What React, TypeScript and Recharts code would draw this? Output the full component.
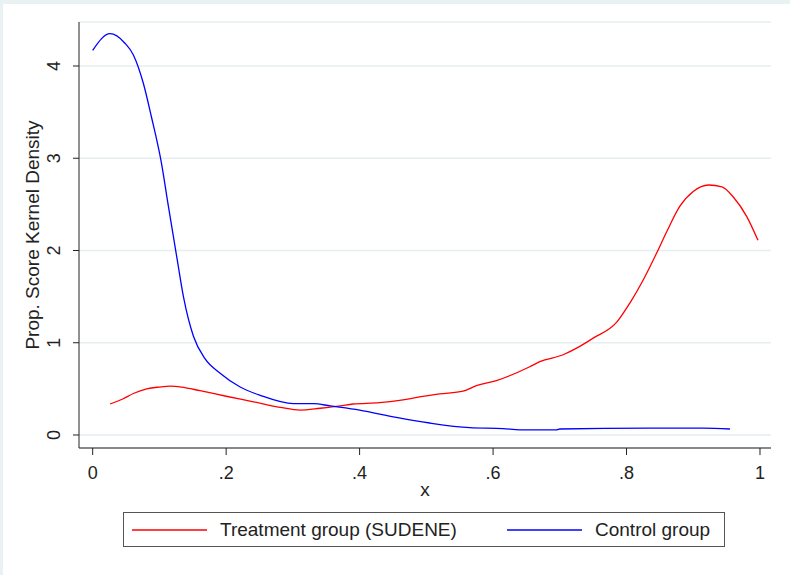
import React from 'react';
import { LineChart, Line, XAxis, YAxis, CartesianGrid } from 'recharts';

// propensity score grid (x) and kernel density estimates
const treatX = [0.026, 0.045, 0.061, 0.081, 0.1, 0.116, 0.133, 0.161, 0.2, 0.241, 0.281, 0.311, 0.341, 0.371, 0.39, 0.43, 0.46, 0.48, 0.52, 0.555, 0.575, 0.605, 0.655, 0.67, 0.705, 0.73, 0.75, 0.785, 0.805, 0.825, 0.845, 0.86, 0.88, 0.9, 0.923, 0.943, 0.96, 0.98, 0.997];
const treatY = [0.336, 0.39, 0.45, 0.5, 0.52, 0.53, 0.52, 0.48, 0.42, 0.36, 0.3, 0.27, 0.29, 0.315, 0.336, 0.35, 0.375, 0.4, 0.445, 0.475, 0.535, 0.59, 0.74, 0.795, 0.87, 0.96, 1.05, 1.22, 1.43, 1.68, 1.97, 2.2, 2.48, 2.64, 2.71, 2.69, 2.58, 2.37, 2.11];

const ctrlX = [0.0, 0.026, 0.048, 0.061, 0.076, 0.088, 0.103, 0.113, 0.126, 0.136, 0.151, 0.168, 0.191, 0.221, 0.251, 0.301, 0.331, 0.356, 0.4, 0.455, 0.505, 0.565, 0.615, 0.64, 0.695, 0.7, 0.833, 0.915, 0.955];
const ctrlY = [4.17, 4.35, 4.25, 4.12, 3.81, 3.45, 2.95, 2.5, 1.93, 1.5, 1.07, 0.83, 0.67, 0.52, 0.43, 0.34, 0.34, 0.315, 0.27, 0.19, 0.13, 0.08, 0.07, 0.055, 0.055, 0.065, 0.075, 0.075, 0.065];

const xTicks = [0, 0.2, 0.4, 0.6, 0.8, 1];
const yTicks = [0, 1, 2, 3, 4];

const seriesNames = ['Treatment group (SUDENE)', 'Control group'];
const seriesColors = ['#ff0000', '#0000ff'];

const treatData = treatX.map((x, i) => ({ x, y: treatY[i] }));
const ctrlData = ctrlX.map((x, i) => ({ x, y: ctrlY[i] }));

const FONT = 'Arial, "Liberation Sans", sans-serif';

const fmtX = (v: number) => (v === 0 || v === 1 ? String(v) : String(v).replace(/^0/, ''));

function XTick({ x, y, payload }: any) {
  return (
    <text x={x} y={y + 22} textAnchor="middle" fontSize={18} fill="#222" fontFamily={FONT}>
      {fmtX(payload.value)}
    </text>
  );
}

function YTick({ x, y, payload }: any) {
  const bx = x - 11;
  return (
    <text x={bx} y={y} transform={`rotate(-90 ${bx} ${y})`} textAnchor="middle" fontSize={18} fill="#222" fontFamily={FONT}>
      {payload.value}
    </text>
  );
}

function YTitle({ viewBox }: any) {
  const cy = viewBox.y + viewBox.height / 2;
  return (
    <text x={39} y={cy} transform={`rotate(-90 39 ${cy})`} textAnchor="middle" fontSize={19} fill="#222" fontFamily={FONT}>
      Prop. Score Kernel Density
    </text>
  );
}

export default function App() {
  return (
    <div style={{ position: 'fixed', left: 0, top: 0, width: 790, height: 575, background: '#eaf1f3' }}>
      <div style={{ position: 'absolute', left: 3, top: 4, right: 0, bottom: 0, background: '#fff' }} />
      <div style={{ position: 'absolute', left: 0, top: 0 }}>
        <LineChart width={790} height={575} margin={{ top: 22, right: 19, bottom: 77, left: 19 }}>
          <CartesianGrid vertical={false} stroke="#e6eef0" strokeWidth={1.5} />
          <XAxis
            dataKey="x"
            type="number"
            domain={[-0.0205, 1.0165]}
            ticks={xTicks}
            allowDataOverflow
            height={50}
            tick={<XTick />}
            tickSize={7}
            axisLine={{ stroke: '#222' }}
            tickLine={{ stroke: '#222' }}
            label={{ value: 'x', position: 'insideBottom', offset: 2, fontSize: 19, fill: '#222', fontFamily: FONT }}
          />
          <YAxis
            dataKey="y"
            type="number"
            domain={[-0.141, 4.477]}
            ticks={yTicks}
            allowDataOverflow
            width={60}
            tick={<YTick />}
            tickSize={6}
            axisLine={{ stroke: '#222' }}
            tickLine={{ stroke: '#222' }}
            label={<YTitle />}
          />
          <Line data={treatData} dataKey="y" name={seriesNames[0]} type="monotone" stroke={seriesColors[0]} strokeWidth={1.3} dot={false} isAnimationActive={false} />
          <Line data={ctrlData} dataKey="y" name={seriesNames[1]} type="monotone" stroke={seriesColors[1]} strokeWidth={1.3} dot={false} isAnimationActive={false} />
        </LineChart>
      </div>
      {/* legend box */}
      <div
        style={{
          position: 'absolute',
          left: 123,
          top: 512,
          width: 600,
          height: 33,
          border: '1.5px solid #555',
          background: '#fff',
          fontFamily: FONT,
          fontSize: 19,
          color: '#222',
        }}
      >
        {seriesNames.map((name, i) => (
          <div key={name} style={{ position: 'absolute', left: i === 0 ? 8 : 383, top: 0, height: 33, display: 'flex', alignItems: 'center' }}>
            <svg width={75} height={4} style={{ marginRight: 13 }}>
              <line x1={0} y1={2} x2={75} y2={2} stroke={seriesColors[i]} strokeWidth={1.5} />
            </svg>
            <span>{name}</span>
          </div>
        ))}
      </div>
    </div>
  );
}
